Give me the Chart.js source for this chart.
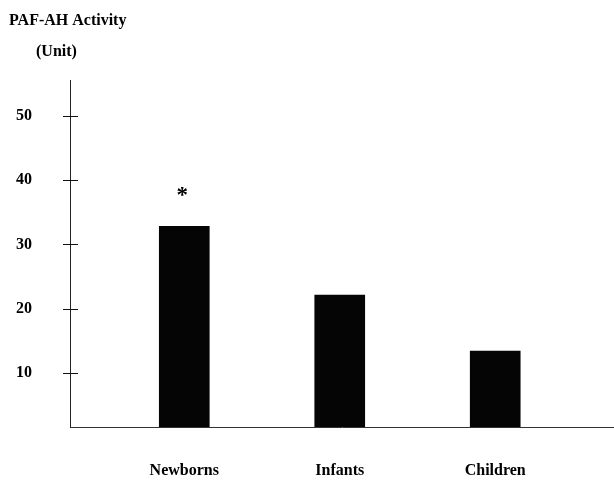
<!DOCTYPE html>
<html>
<head>
<meta charset="utf-8">
<script src="https://cdn.jsdelivr.net/npm/chart.js@4/dist/chart.umd.min.js"></script>
<style>
  html, body { margin: 0; padding: 0; background: #fff; }
  #wrap { width: 614px; height: 487px; position: relative; }
</style>
</head>
<body>
<div id="wrap"><canvas id="c" width="614" height="487"></canvas></div>
<script>
// Groups and PAF-AH activity (units)
const categories = ['Newborns', 'Infants', 'Children'];
const activity = [32.8, 22.1, 13.4];
const significance = ['*', '', ''];
const yTicks = [10, 20, 30, 40, 50];
const yTitle = ['PAF-AH Activity', '(Unit)'];

const serif = '"Liberation Serif", "Times New Roman", serif';
const ink = '#000';

// Title text at the top left and the cross-shaped tick marks on the y axis
const decorations = {
  id: 'decorations',
  afterDraw(chart) {
    const ctx = chart.ctx;
    const y = chart.scales.y;
    const x = chart.scales.x;
    ctx.save();
    ctx.fillStyle = ink;
    ctx.font = 'bold 16px ' + serif;
    ctx.textAlign = 'left';
    ctx.textBaseline = 'middle';
    ctx.fillText(yTitle[0], 9, 21);
    ctx.fillText(yTitle[1], 36, 52);

    ctx.strokeStyle = '#111';
    ctx.lineWidth = 1;
    y.ticks.forEach(t => {
      const py = Math.round(y.getPixelForValue(t.value)) + 0.5;
      ctx.beginPath();
      ctx.moveTo(63, py);
      ctx.lineTo(78, py);
      ctx.stroke();
    });

    // significance marks above bars
    ctx.font = 'bold 23px ' + serif;
    ctx.textAlign = 'center';
    ctx.textBaseline = 'alphabetic';
    significance.forEach((m, i) => {
      if (!m) return;
      const px = x.getPixelForValue(i + 1);
      const py = y.getPixelForValue(activity[i]);
      ctx.fillText(m, px - 2, py - 24);
    });
    ctx.restore();
  }
};

new Chart(document.getElementById('c'), {
  type: 'bar',
  data: {
    datasets: [{
      data: activity.map((v, i) => ({ x: i + 1, y: v })),
      backgroundColor: '#050505',
      borderWidth: 0,
      barThickness: 50
    }]
  },
  options: {
    responsive: false,
    animation: false,
    devicePixelRatio: 1,
    layout: { padding: { top: 80, right: 0, left: 0, bottom: 0 } },
    plugins: { legend: { display: false }, tooltip: { enabled: false }, title: { display: false } },
    scales: {
      x: {
        type: 'linear',
        offset: false,
        min: 0.265,
        max: 3.764,
        afterBuildTicks(scale) { scale.ticks = categories.map((c, i) => ({ value: i + 1 })); },
        afterFit(scale) { scale.height = 60; },
        ticks: {
          callback: v => categories[v - 1],
          color: ink,
          font: { family: serif, size: 16, weight: 'bold' },
          padding: 34,
          maxRotation: 0,
          autoSkip: false
        },
        grid: { display: false, drawTicks: false },
        border: { display: true, color: '#333', width: 1 }
      },
      y: {
        min: 1.56,
        max: 55.6,
        afterBuildTicks(scale) { scale.ticks = yTicks.map(v => ({ value: v })); },
        afterFit(scale) { scale.width = 70; },
        ticks: {
          color: ink,
          font: { family: serif, size: 16, weight: 'bold' },
          padding: 38
        },
        grid: { display: false, drawTicks: false },
        border: { display: true, color: '#222', width: 1 }
      }
    }
  },
  plugins: [decorations]
});
</script>
</body>
</html>
